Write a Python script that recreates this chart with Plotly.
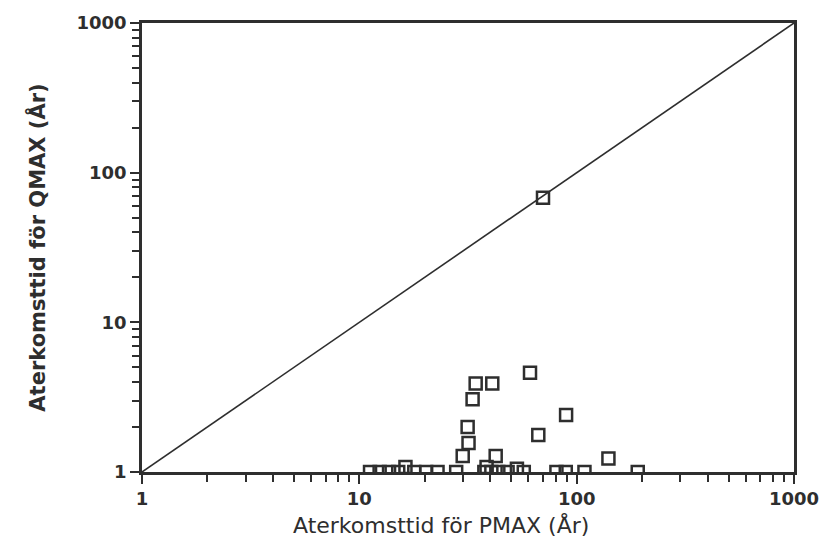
import plotly.graph_objects as go

# Data
pmax = [70, 61, 34.3, 40.9, 33.2, 89.4, 31.5, 66.6, 31.8, 29.9, 42.4, 140,
        11.2, 12.4, 13.7, 15.1, 16.3, 17.9, 20.3, 22.9, 27.9, 37.6, 38.5, 40.5,
        43.6, 48.1, 53.1, 57.1, 80.7, 89.1, 108.6, 191]
qmax = [68, 4.6, 3.9, 3.9, 3.06, 2.4, 2.0, 1.77, 1.56, 1.28, 1.28, 1.23,
        1.0, 1.0, 1.0, 1.0, 1.08, 1.0, 1.0, 1.0, 1.0, 1.0, 1.08, 1.0,
        1.0, 1.0, 1.05, 1.0, 1.0, 1.0, 1.0, 1.0]
diag = [1, 1000]
tick_vals = [1, 10, 100, 1000]
tick_text = ["1", "10", "100", "1000"]
minor_vals = [m * d for d in (1, 10, 100) for m in range(2, 10)]
x_title = "Aterkomsttid för PMAX (År)"
y_title = "Aterkomsttid för QMAX (År)"

ink = "#2e2e2e"
font_family = "DejaVu Sans, Liberation Sans, Arial"
fig = go.Figure()
fig.add_trace(go.Scatter(x=diag, y=diag, mode="lines",
                         line=dict(color=ink, width=1.6), hoverinfo="skip"))
fig.add_trace(go.Scatter(x=pmax, y=qmax, mode="markers",
                         marker=dict(symbol="square-open", size=12,
                                     color=ink, line=dict(width=2.5, color=ink))))

axis_common = dict(
    type="log", range=[0, 3], tickvals=tick_vals, ticktext=tick_text,
    ticks="outside", ticklen=9, tickwidth=2, tickcolor=ink,
    showline=True, linecolor=ink, linewidth=2.5, mirror=True,
    showgrid=False, zeroline=False,
    tickfont=dict(family=font_family, size=18, color=ink, weight="bold"),
    minor=dict(tickvals=minor_vals, ticks="outside", ticklen=7, tickwidth=1.5,
               tickcolor=ink, showgrid=False),
)
fig.update_xaxes(**axis_common)
fig.update_yaxes(**axis_common,
                 title=dict(text=y_title, standoff=26,
                            font=dict(family=font_family, size=21, color=ink,
                                      weight="bold")))
fig.add_annotation(text=x_title, xref="paper", yref="paper",
                   x=0.459, y=-0.152, xanchor="center", yanchor="bottom",
                   showarrow=False,
                   font=dict(family=font_family, size=22, color=ink))
fig.update_layout(
    width=830, height=540, showlegend=False,
    margin=dict(l=142, r=36, t=23, b=68),
    plot_bgcolor="white", paper_bgcolor="white",
)
fig.write_html("out.html")
